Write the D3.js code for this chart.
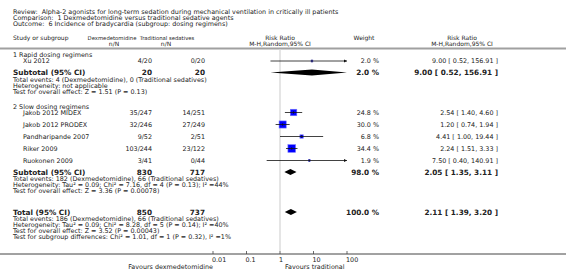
<!DOCTYPE html>
<html>
<head>
<meta charset="utf-8">
<script src="https://cdn.jsdelivr.net/npm/d3@7"></script>
<style>
  body { margin: 0; background: #fff; }
  svg text { font-family: "DejaVu Sans", Verdana, sans-serif; fill: #222; }
  .small { font-size: 6.4px; }
  .head { font-size: 6px; }
  .squeeze { font-size: 5.3px; }
  .bold { font-size: 7.3px; font-weight: bold; fill: #111; }
</style>
</head>
<body>
<div id="chart"></div>
<script>
// title lines
const titleLines = [
    "Review:  Alpha-2 agonists for long-term sedation during mechanical ventilation in critically ill patients",
    "Comparison:  1 Dexmedetomidine versus traditional sedative agents",
    "Outcome:  6 Incidence of bradycardia (subgroup: dosing regimens)"
];

// subgroups
const groupNames = ["1 Rapid dosing regimens", "2 Slow dosing regimens"];

// studies
const studyNames = ["Xu 2012", "Jakob 2012 MIDEX", "Jakob 2012 PRODEX", "Pandharipande 2007", "Riker 2009", "Ruokonen 2009"];
const studyGroup = [0, 1, 1, 1, 1, 1];
const dexEvents = [4, 35, 32, 9, 103, 3];
const dexTotal = [20, 247, 246, 52, 244, 41];
const tradEvents = [0, 14, 27, 2, 23, 0];
const tradTotal = [20, 251, 249, 51, 122, 44];
const studyRR = [9.00, 2.54, 1.20, 4.41, 2.24, 7.50];
const studyLo = [0.52, 1.40, 0.74, 1.00, 1.51, 0.40];
const studyHi = [156.91, 4.60, 1.94, 19.44, 3.33, 140.91];
const studyWeight = [2.0, 24.8, 30.0, 6.8, 34.4, 1.9];

// subtotals per group
const subDex = [20, 830];
const subTrad = [20, 717];
const subWeight = [2.0, 98.0];
const subRR = [9.00, 2.05];
const subLo = [0.52, 1.35];
const subHi = [156.91, 3.11];
const subNotes = [
    ["Total events: 4 (Dexmedetomidine), 0 (Traditional sedatives)",
     "Heterogeneity: not applicable",
     "Test for overall effect: Z = 1.51 (P = 0.13)"],
    ["Total events: 182 (Dexmedetomidine), 66 (Traditional sedatives)",
     "Heterogeneity: Tau\u00b2 = 0.09; Chi\u00b2 = 7.16, df = 4 (P = 0.13); I\u00b2 =44%",
     "Test for overall effect: Z = 3.36 (P = 0.00078)"]
];

// overall total
const totalDex = 850;
const totalTrad = 737;
const totalWeight = 100.0;
const totalRR = 2.11;
const totalLo = 1.39;
const totalHi = 3.20;
const totalNotes = [
    "Total events: 186 (Dexmedetomidine), 66 (Traditional sedatives)",
    "Heterogeneity: Tau\u00b2 = 0.09; Chi\u00b2 = 8.28, df = 5 (P = 0.14); I\u00b2 =40%",
    "Test for overall effect: Z = 3.52 (P = 0.00043)",
    "Test for subgroup differences: Chi\u00b2 = 1.01, df = 1 (P = 0.32), I\u00b2 =1%"
];

// axis
const axisTicks = [0.01, 0.1, 1, 10, 100];
const axisTickLabels = ["0.01", "0.1", "1", "10", "100"];
const favoursLeft = "Favours dexmedetomidine";
const favoursRight = "Favours traditional";

const config = {
    width: 566,
    height: 272,
    textLeft: 13,
    indent: 23,
    dexRight: 152,
    tradRight: 205,
    plotLeft: 213,
    plotRight: 347,
    weightRight: 379,
    ciRight: 498,
    lineGap: 5.9,
    studyGap: 12,
    diamondHalf: 3,
    boxScale: 1.3
};

const fmt = d3.format(".2f");
const ciText = (r, l, h) => `${fmt(r)} [ ${fmt(l)}, ${fmt(h)} ]`;

const svg = d3.select('#chart').append('svg')
    .attr('width', config.width)
    .attr('height', config.height);

// log scale for risk ratio
const xScale = d3.scaleLog()
    .domain([0.01, 100])
    .range([config.plotLeft, config.plotRight]);
const clampX = v => xScale(Math.max(0.01, Math.min(100, v)));

// text baseline offset from a row centre
const base = 2.3;

// title
svg.selectAll('.title')
    .data(titleLines)
    .join('text')
    .attr('class', 'title small')
    .attr('x', config.textLeft)
    .attr('y', (d, i) => 11.5 + i * 6.3 + base)
    .attr('xml:space', 'preserve')
    .text(d => d);

// header
const h1 = 37.5, h2 = 43.5;
const header = svg.append('g').attr('class', 'head');
header.append('text').attr('x', config.textLeft).attr('y', h1 + base).text("Study or subgroup");
header.append('text').attr('class', 'squeeze').attr('x', 112).attr('y', h1 + base).attr('text-anchor', 'middle').text("Dexmedetomidine");
header.append('text').attr('x', 114).attr('y', h2 + base).attr('text-anchor', 'middle').text("n/N");
header.append('text').attr('class', 'squeeze').attr('x', 167).attr('y', h1 + base).attr('text-anchor', 'middle').text("Traditional sedatives");
header.append('text').attr('x', 166).attr('y', h2 + base).attr('text-anchor', 'middle').text("n/N");
header.append('text').attr('x', xScale(1)).attr('y', h1 + base).attr('text-anchor', 'middle').text("Risk Ratio");
header.append('text').attr('x', xScale(1)).attr('y', h2 + base).attr('text-anchor', 'middle').text("M-H,Random,95% CI");
header.append('text').attr('x', 364).attr('y', h1 + base).attr('text-anchor', 'middle').text("Weight");
header.append('text').attr('x', 462).attr('y', h1 + base).attr('text-anchor', 'middle').text("Risk Ratio");
header.append('text').attr('x', 462).attr('y', h2 + base).attr('text-anchor', 'middle').text("M-H,Random,95% CI");

// gray rule under header
svg.append('line')
    .attr('x1', 0).attr('x2', config.width)
    .attr('y1', 48.5).attr('y2', 48.5)
    .attr('stroke', '#a0a0a0').attr('stroke-width', 2);

// vertical line of no effect
const axisY = 254;
svg.append('line')
    .attr('x1', xScale(1)).attr('x2', xScale(1))
    .attr('y1', 49.5).attr('y2', axisY - 3)
    .attr('stroke', '#dcdcdc').attr('stroke-width', 1.5);

// row layout: group label, studies, subtotal, notes
const groupTop = [55, 106.5];
const rows = [];
let studyY = [];
groupNames.forEach((g, gi) => {
    let y = groupTop[gi];
    rows.push({type: 'group', text: g, y: y});
    y += 6;
    studyNames.forEach((s, si) => {
        if (studyGroup[si] !== gi) return;
        studyY[si] = y;
        y += config.studyGap;
    });
    rows.push({type: 'subtotal', gi: gi, y: y - 0.5});
    subNotes[gi].forEach((t, ti) => rows.push({type: 'note', text: t, y: y + 6.5 + ti * config.lineGap}));
});

// group labels and notes
svg.selectAll('.plain')
    .data(rows.filter(r => r.type !== 'subtotal'))
    .join('text')
    .attr('class', 'plain small')
    .attr('x', config.textLeft)
    .attr('y', d => d.y + base)
    .text(d => d.text);

// study rows
const study = svg.selectAll('.study')
    .data(studyNames.map((name, i) => ({
        name, i, y: studyY[i],
        dex: `${dexEvents[i]}/${dexTotal[i]}`,
        trad: `${tradEvents[i]}/${tradTotal[i]}`,
        rr: studyRR[i], lo: studyLo[i], hi: studyHi[i], w: studyWeight[i]
    })))
    .join('g')
    .attr('class', 'study small');

study.append('text').attr('x', config.indent).attr('y', d => d.y + base).text(d => d.name);
study.append('text').attr('x', config.dexRight).attr('y', d => d.y + base).attr('text-anchor', 'end').text(d => d.dex);
study.append('text').attr('x', config.tradRight).attr('y', d => d.y + base).attr('text-anchor', 'end').text(d => d.trad);
study.append('text').attr('x', config.weightRight).attr('y', d => d.y + base).attr('text-anchor', 'end')
    .attr('xml:space', 'preserve').text(d => d.w.toFixed(1) + " %");
study.append('text').attr('x', config.ciRight).attr('y', d => d.y + base).attr('text-anchor', 'end')
    .attr('xml:space', 'preserve').text(d => ciText(d.rr, d.lo, d.hi));

// weight boxes
study.append('rect')
    .attr('x', d => xScale(d.rr) - config.boxScale * Math.sqrt(d.w) / 2)
    .attr('y', d => d.y - config.boxScale * Math.sqrt(d.w) / 2)
    .attr('width', d => config.boxScale * Math.sqrt(d.w))
    .attr('height', d => config.boxScale * Math.sqrt(d.w))
    .attr('fill', '#0000ff')
    .attr('stroke', '#7070ff')
    .attr('stroke-width', 0.6);

// confidence interval lines
study.append('line')
    .attr('x1', d => clampX(d.lo))
    .attr('x2', d => clampX(d.hi))
    .attr('y1', d => d.y).attr('y2', d => d.y)
    .attr('stroke', '#111').attr('stroke-width', 0.8);

// small centre tick
study.append('line')
    .attr('x1', d => xScale(d.rr)).attr('x2', d => xScale(d.rr))
    .attr('y1', d => d.y - 1.5).attr('y2', d => d.y + 1.5)
    .attr('stroke', '#111').attr('stroke-width', 0.6);

// arrow heads where the interval runs off the scale
study.filter(d => d.hi > 100).append('path')
    .attr('d', d => {
        const x = clampX(d.hi), y = d.y;
        return `M${x - 3},${y - 1.6}L${x},${y}L${x - 3},${y + 1.6}Z`;
    })
    .attr('fill', '#111');

// diamonds
const diamond = (rr, lo, hi, y, half) =>
    `M${clampX(lo)},${y}L${xScale(rr)},${y - half}L${clampX(hi)},${y}L${xScale(rr)},${y + half}Z`;

const summary = rows.filter(r => r.type === 'subtotal').map(r => ({
    label: "Subtotal (95% CI)", y: r.y,
    dex: subDex[r.gi], trad: subTrad[r.gi], w: subWeight[r.gi],
    rr: subRR[r.gi], lo: subLo[r.gi], hi: subHi[r.gi]
}));
const totalY = 212;
summary.push({label: "Total (95% CI)", y: totalY, dex: totalDex, trad: totalTrad, w: totalWeight,
    rr: totalRR, lo: totalLo, hi: totalHi});

const sum = svg.selectAll('.summary')
    .data(summary)
    .join('g')
    .attr('class', 'summary bold');

sum.append('text').attr('x', config.textLeft).attr('y', d => d.y + 2.6).text(d => d.label);
sum.append('text').attr('x', config.dexRight).attr('y', d => d.y + 2.6).attr('text-anchor', 'end').text(d => d.dex);
sum.append('text').attr('x', config.tradRight).attr('y', d => d.y + 2.6).attr('text-anchor', 'end').text(d => d.trad);
sum.append('text').attr('x', config.weightRight).attr('y', d => d.y + 2.6).attr('text-anchor', 'end')
    .attr('xml:space', 'preserve').text(d => d.w.toFixed(1) + " %");
sum.append('text').attr('x', config.ciRight).attr('y', d => d.y + 2.6).attr('text-anchor', 'end')
    .attr('xml:space', 'preserve').text(d => ciText(d.rr, d.lo, d.hi));
sum.append('path')
    .attr('d', d => diamond(d.rr, d.lo, d.hi, d.y, config.diamondHalf))
    .attr('fill', '#000');

// total notes
svg.selectAll('.total-note')
    .data(totalNotes)
    .join('text')
    .attr('class', 'total-note small')
    .attr('x', config.textLeft)
    .attr('y', (d, i) => totalY + 6.5 + i * config.lineGap + base)
    .text(d => d);

// bottom axis
svg.append('line')
    .attr('x1', 0).attr('x2', config.width)
    .attr('y1', axisY).attr('y2', axisY)
    .attr('stroke', '#444').attr('stroke-width', 1);

const tick = svg.selectAll('.tick')
    .data(axisTicks)
    .join('g')
    .attr('class', 'tick small')
    .attr('transform', d => `translate(${xScale(d)},${axisY})`);
tick.append('line').attr('y1', -3).attr('y2', 0).attr('stroke', '#444').attr('stroke-width', 0.8);
tick.append('text').attr('x', -1).attr('y', 7.5).text((d, i) => axisTickLabels[i]);

svg.append('text').attr('class', 'small')
    .attr('x', xScale(0.01)).attr('y', 269).attr('text-anchor', 'end').text(favoursLeft);
svg.append('text').attr('class', 'small')
    .attr('x', xScale(1) + 5).attr('y', 269).text(favoursRight);
</script>
</body>
</html>
